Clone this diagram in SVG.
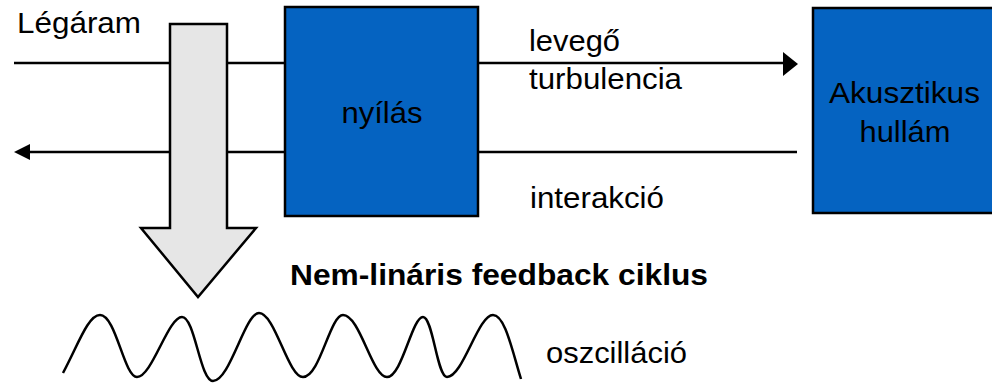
<svg xmlns="http://www.w3.org/2000/svg" width="992" height="384" viewBox="0 0 992 384">
<style>
.t{font-family:"Liberation Sans",Arial,sans-serif;font-size:30px;fill:#000}
.b{font-weight:bold}
.ln{stroke:#000;stroke-width:2.5;fill:none}
.box{fill:#0563C1;stroke:#000;stroke-width:2.5}
</style>
<rect width="992" height="384" fill="#fff"/>
<g id="connectors">
<path class="ln" d="M14,63 H285"/>
<path class="ln" d="M478,63 H783"/>
<path d="M783,52 L798,64 L783,76 Z" fill="#000"/>
<path class="ln" d="M30,152 H797"/>
<path d="M14,152 L30,144 L30,160 Z" fill="#000"/>
</g>
<g id="legaram"><text class="t" x="17" y="33" textLength="124" lengthAdjust="spacingAndGlyphs">Légáram</text></g>
<g id="big-arrow"><path d="M170,24 H227 V228 H256 L198,297 L141,228 H170 Z" fill="#E6E6E6" stroke="#000" stroke-width="2.5" stroke-linejoin="miter"/></g>
<g id="nyilas"><rect class="box" x="285" y="7" width="193" height="209"/><text class="t" x="382" y="123" text-anchor="middle" textLength="81" lengthAdjust="spacingAndGlyphs">nyílás</text></g>
<g id="akusztikus"><rect class="box" x="813" y="8" width="190" height="205"/><text class="t" x="904.5" y="103" text-anchor="middle" textLength="151" lengthAdjust="spacingAndGlyphs">Akusztikus</text><text class="t" x="905" y="142" text-anchor="middle" textLength="91" lengthAdjust="spacingAndGlyphs">hullám</text></g>
<g id="labels">
<text class="t" x="529" y="51" textLength="91" lengthAdjust="spacingAndGlyphs">levegő</text>
<text class="t" x="529" y="89" textLength="153" lengthAdjust="spacingAndGlyphs">turbulencia</text>
<text class="t" x="530" y="208" textLength="134" lengthAdjust="spacingAndGlyphs">interakció</text>
<text class="t b" x="290" y="285" textLength="418" lengthAdjust="spacingAndGlyphs">Nem-lináris feedback ciklus</text>
<text class="t" x="546" y="363" textLength="141" lengthAdjust="spacingAndGlyphs">oszcilláció</text>
</g>
<g id="wave"><path class="ln" d="M63,373 C78,345 88,315 100,315 C116,315 124,377 137,377 C152,377 168,317 182,317 C195,317 200,381 213,381 C230,381 245,313 259,313 C275,313 288,377 303,377 C320,377 330,315 343,315 C360,315 372,377 387,377 C402,377 412,317 423,317 C433,317 437,377 447,377 C463,377 478,315 493,315 C505,315 512,350 521,379"/></g>
</svg>
